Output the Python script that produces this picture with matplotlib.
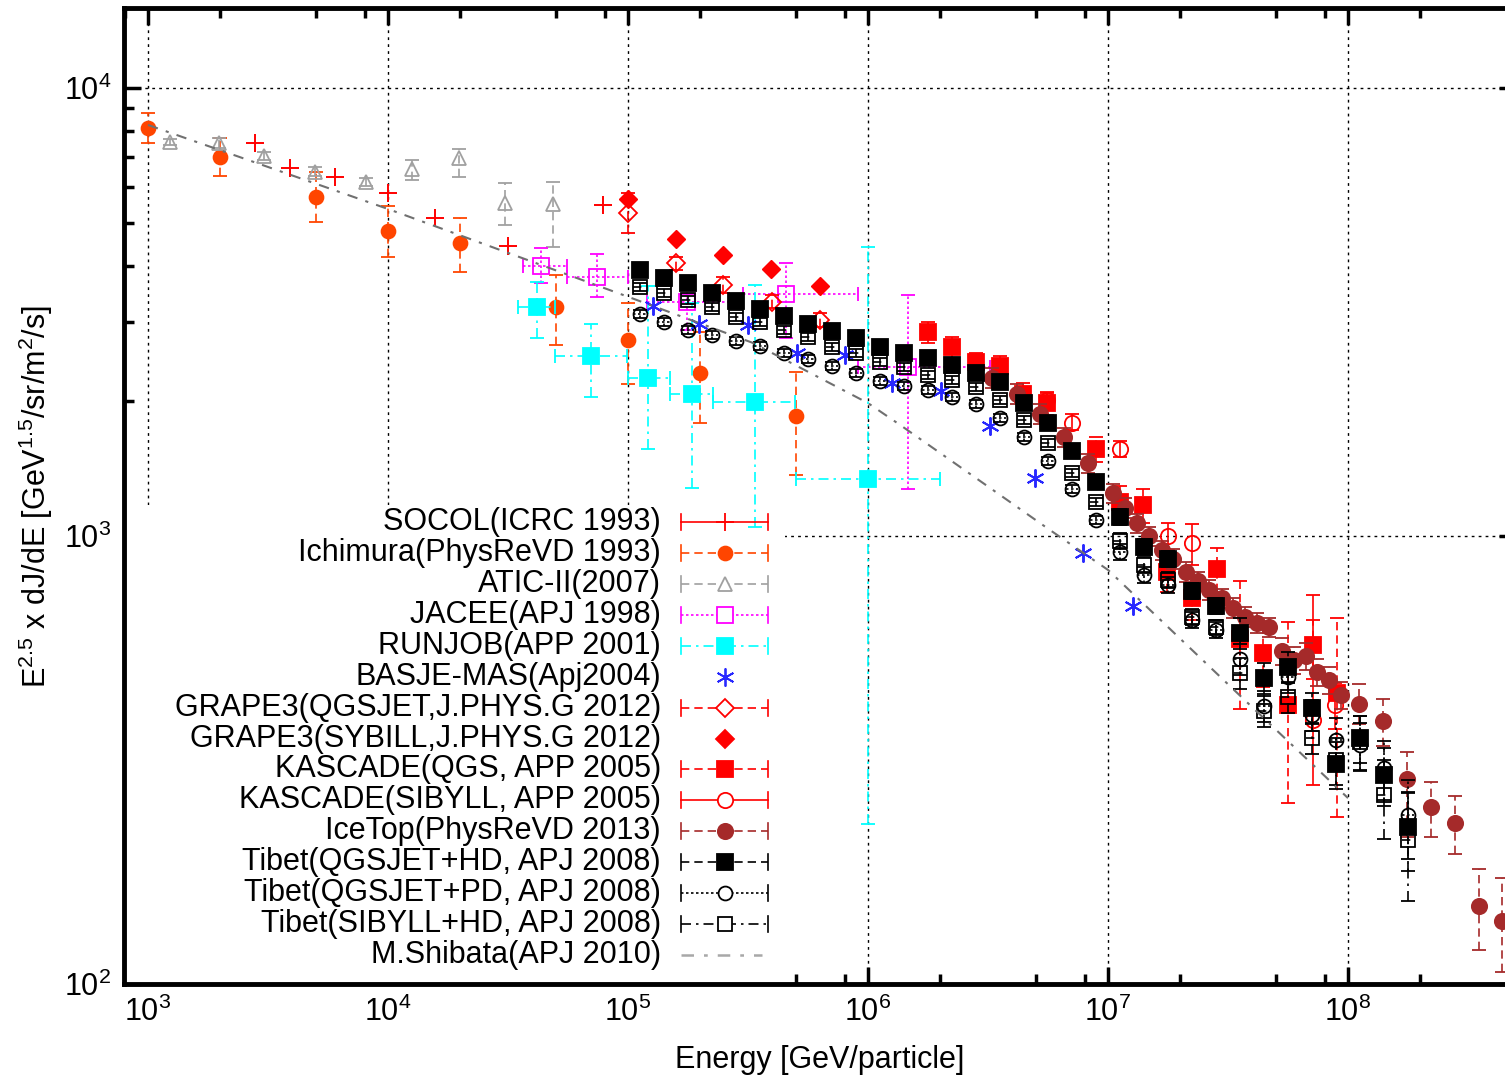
import numpy as np
import matplotlib
matplotlib.use('Agg')
import matplotlib.pyplot as plt
from matplotlib.ticker import LogLocator, LogFormatterMathtext, NullFormatter
from matplotlib.patches import Rectangle

plt.rcParams['font.family'] = ['Liberation Sans', 'DejaVu Sans']
plt.rcParams['mathtext.fontset'] = 'custom'
plt.rcParams['mathtext.rm'] = 'Liberation Sans'
plt.rcParams['mathtext.it'] = 'Liberation Sans:italic'
plt.rcParams['mathtext.bf'] = 'Liberation Sans:bold'

# ---------------- data ----------------
socol_E = [2800, 3900, 6000, 10000, 15700, 31600, 78700]
socol_F = [7540, 6630, 6330, 5830, 5130, 4440, 5480]

ichi_E = [1000, 2000, 5000, 10000, 20000, 50000, 100000, 200000, 500000]
ichi_F = [8140, 7010, 5710, 4800, 4510, 3240, 2740, 2310, 1850]
ichi_hi = [8790, 7730, 6500, 5450, 5130, 3830, 3310, 2850, 2320]
ichi_lo = [7540, 6360, 5020, 4200, 3880, 2670, 2180, 1790, 1370]

atic_E = [1235, 1977, 3040, 4960, 8090, 12600, 19800, 30700, 48700]
atic_F = [7580, 7540, 7050, 6495, 6170, 6590, 6980, 5530, 5510]
atic_hi = [7700, 7750, 7200, 6650, 6300, 6900, 7310, 6140, 6170]
atic_lo = [7450, 7330, 6900, 6350, 6050, 6240, 6330, 4940, 4420]

jacee_E = [43400, 74300, 176000, 455000, 1470000]
jacee_F = [4010, 3790, 3330, 3470, 2380]
jacee_Elo = [36500, 55700, 120000, 301000, 908000]
jacee_Ehi = [55700, 100000, 301000, 908000, 3220000]
jacee_hi = [4400, 4260, 3540, 4060, 3450]
jacee_lo = [3670, 3410, 2880, 2770, 1270]

runjob_E = [41800, 70200, 121000, 185000, 338000, 1000000]
runjob_F = [3240, 2520, 2250, 2080, 1990, 1340]
runjob_Elo = [34800, 49700, 100000, 150000, 226000, 501000]
runjob_Ehi = [49700, 99100, 150000, 226000, 497000, 2000000]
runjob_hi = [3690, 2970, 3610, 3310, 3630, 4420]
runjob_lo = [2770, 2040, 1560, 1280, 1047, 228]

basje_E = [1.27e5, 1.98e5, 3.16e5, 5.06e5, 8.02e5, 1.26e6, 2.01e6, 3.22e6, 4.97e6, 7.87e6, 1.27e7]
basje_F = [3260, 2970, 2960, 2560, 2530, 2200, 2110, 1760, 1350, 916, 698]

grapeq_E = [1e5, 1.58e5, 2.49e5, 3.98e5, 6.31e5]
grapeq_F = [5260, 4060, 3630, 3330, 3030]
grapeq_hi = [5840, 4200, 3780, 3450, 3140]
grapeq_lo = [4750, 3930, 3480, 3220, 2930]

grapes_E = [1e5, 1.58e5, 2.49e5, 3.95e5, 6.31e5]
grapes_F = [5650, 4600, 4240, 3940, 3610]

kq_E = [1.78e6, 2.24e6, 2.82e6, 3.55e6, 4.42e6, 5.57e6, 8.91e6, 1.12e7, 1.40e7, 1.76e7,
        2.24e7, 2.85e7, 3.55e7, 4.42e7, 5.62e7, 7.15e7, 9.0e7]
kq_F = [2850, 2640, 2440, 2400, 2080, 1980, 1560, 1190, 1170, 832, 728, 844, 590, 548, 420, 571, 447]
kq_hi = [3000, 2780, 2560, 2520, 2200, 2100, 1660, 1290, 1270, 910, 810, 940, 793, 640, 643, 650, 656]
kq_lo = [2700, 2500, 2320, 2280, 1960, 1860, 1460, 1090, 1070, 750, 650, 750, 411, 460, 253, 480, 236]

ks_E = [5.57e6, 7.08e6, 1.12e7, 1.78e7, 2.24e7, 7.15e7, 8.83e7]
ks_F = [2010, 1790, 1560, 1000, 965, 388, 420]
ks_hi = [2090, 1870, 1630, 1069, 1064, 738, 470]
ks_lo = [1930, 1720, 1500, 930, 861, 278, 370]

ice_E = [3.29e6, 4.18e6, 5.21e6, 6.56e6, 8.26e6, 1.05e7, 1.18e7, 1.32e7, 1.48e7, 1.68e7,
         1.87e7, 2.11e7, 2.37e7, 2.64e7, 2.99e7, 3.32e7, 3.72e7, 4.18e7, 4.69e7, 5.31e7,
         5.96e7, 6.68e7, 7.43e7, 8.34e7, 9.35e7, 1.11e8, 1.40e8, 1.76e8, 2.22e8, 2.79e8,
         3.52e8, 4.38e8]
ice_F = [2253, 2075, 1873, 1663, 1455, 1247, 1155, 1069, 1000, 930, 889, 832, 793, 758, 727,
         691, 660, 640, 626, 554, 529, 540, 497, 477, 442, 422, 386, 287, 248, 229, 149, 138]
ice_up_pct = [5, 5, 5, 5, 5, 5, 5, 5, 5, 5, 5, 5, 5, 5, 5, 5, 5, 5, 5,
              7, 7, 7, 7, 7, 7, 11, 12, 15, 14, 15, 21, 25]
ice_dn_pct = [5, 5, 5, 5, 5, 5, 5, 5, 5, 5, 5, 5, 5, 5, 5, 5, 5, 5, 5,
              7, 7, 7, 7, 7, 7, 10, 12, 26, 14, 15, 20, 23]

tibet_E = [1.12e5, 1.41e5, 1.78e5, 2.24e5, 2.82e5, 3.55e5, 4.47e5, 5.62e5, 7.08e5, 8.91e5,
           1.12e6, 1.41e6, 1.78e6, 2.24e6, 2.82e6, 3.55e6, 4.47e6, 5.62e6, 7.08e6, 8.91e6,
           1.12e7, 1.41e7, 1.78e7, 2.24e7, 2.82e7, 3.55e7, 4.47e7, 5.62e7, 7.08e7, 8.91e7,
           1.12e8, 1.41e8, 1.78e8]
tibet_hd_F = [3925, 3766, 3670, 3486, 3346, 3211, 3098, 2973, 2868, 2767, 2642, 2562, 2497, 2409,
              2311, 2207, 1982, 1787, 1548, 1320, 1103, 945, 889, 754, 698, 607, 482, 510, 413,
              310, 354, 293, 224]
tibet_pd_F = [3130, 3004, 2883, 2810, 2725, 2655, 2562, 2484, 2396, 2311, 2218, 2162, 2118, 2043,
              1971, 1834, 1663, 1471, 1273, 1086, 921, 818, 777, 649, 617, 531, 417, 485, 399,
              350, 342, 303, 238]
tibet_sh_F = [3595, 3486, 3363, 3245, 3082, 3004, 2883, 2781, 2642, 2562, 2446, 2384, 2288, 2230,
              2151, 2012, 1815, 1613, 1382, 1191, 975, 861, 798, 660, 626, 495, 407, 437, 354,
              316, 347, 264, 210]
tibet_hd_pct = [2, 2, 2, 2, 2, 2, 2, 2, 2, 2, 2, 2, 2, 2, 2, 2, 2, 2, 2, 2,
                4, 4, 4, 4, 4, 8, 8, 8, 8, 12, 12, 15, 20]
tibet_pd_pct = [2, 2, 2, 2, 2, 2, 2, 2, 2, 2, 2, 2, 2, 2, 2, 2, 2, 2, 2, 2,
                4, 4, 4, 4, 4, 8, 8, 8, 8, 12, 12, 15, 20]
tibet_sh_pct = [2, 2, 2, 2, 2, 2, 2, 2, 2, 2, 2, 2, 2, 2, 2, 2, 2, 2, 2, 2,
                4, 4, 4, 4, 4, 8, 8, 8, 8, 12, 14, 20, 27]
tibet_xerr_pct = [6, 6, 6, 6, 6, 6, 6, 6, 6, 6, 6, 6, 6, 6, 6, 6, 6, 6, 6, 6,
                  6, 6, 6, 6, 6, 6, 6, 6, 6, 6, 6, 6, 6]

shibata_E = [1e3, 1e4, 1e5, 3.3e5, 1e6, 1.36e6, 3.16e6, 5.6e6, 1e7, 3.16e7, 1e8]
shibata_F = [8270, 5370, 3420, 2700, 1980, 1770, 1290, 1040, 840, 467, 260]

labels = ['SOCOL(ICRC 1993)', 'Ichimura(PhysReVD 1993)', 'ATIC-II(2007)', 'JACEE(APJ 1998)',
          'RUNJOB(APP 2001)', 'BASJE-MAS(Apj2004)', 'GRAPE3(QGSJET,J.PHYS.G 2012)',
          'GRAPE3(SYBILL,J.PHYS.G 2012)', 'KASCADE(QGS, APP 2005)', 'KASCADE(SIBYLL, APP 2005)',
          'IceTop(PhysReVD 2013)', 'Tibet(QGSJET+HD, APJ 2008)', 'Tibet(QGSJET+PD, APJ 2008)',
          'Tibet(SIBYLL+HD, APJ 2008)', 'M.Shibata(APJ 2010)']

RED = '#FF0000'
ORG = '#FF4500'
GRY = '#A0A0A0'
MAG = '#FF00FF'
CYA = '#00FFFF'
BLU = '#2828FF'
BRN = '#A52A2A'
BLK = '#000000'
SHB = '#707070'
SHB_KEY = '#A8A8A8'

DASH = (0, (5, 3))
DOT = (0, (1.5, 1.5))
DASHDOT = (0, (6, 3, 1.5, 3))
ASTER = (6, 2, 0)
SHB_LS = (0, (5, 4, 1.5, 4))

FS = 22

# ---------------- figure ----------------
W, H = 1505, 1079
fig = plt.figure(figsize=(W / 100, H / 100), dpi=100)
L, R, T, B = 124, 1516, 8, 984
ax = fig.add_axes([L / W, 1 - B / H, (R - L) / W, (B - T) / H])
ax.set_xscale('log')
ax.set_yscale('log')
ax.set_xlim(10 ** 2.9, 10 ** 8.7)
ax.set_ylim(100, 10 ** (4 + 80 / 448))
ax.set_axisbelow(True)

ax.xaxis.set_major_locator(LogLocator(base=10, numticks=20))
ax.xaxis.set_minor_locator(LogLocator(base=10, subs=(2, 5, 8), numticks=20))
ax.yaxis.set_major_locator(LogLocator(base=10, numticks=20))
ax.yaxis.set_minor_locator(LogLocator(base=10, subs=np.arange(2, 10), numticks=20))
ax.xaxis.set_major_formatter(LogFormatterMathtext())
ax.yaxis.set_major_formatter(LogFormatterMathtext())
ax.xaxis.set_minor_formatter(NullFormatter())
ax.yaxis.set_minor_formatter(NullFormatter())
ax.tick_params(which='both', direction='in', top=True, right=True, width=2.5, labelsize=FS)
ax.tick_params(which='major', length=12)
ax.tick_params(which='minor', length=7)
ax.tick_params(axis='x', pad=9)
ax.tick_params(axis='y', pad=9)
for s in ax.spines.values():
    s.set_linewidth(3.5)
ax.grid(True, which='major', color='black', linestyle=(0, (2, 3)), linewidth=1.0)

# white key area (hides the grid behind the key)
ax.add_patch(Rectangle((0, 0), (785 - L) / (R - L), (B - 505) / (B - T),
                       transform=ax.transAxes, facecolor='white', edgecolor='none', zorder=1))


def eb(E, F, color, marker, ms, filled, ls, z, lo=None, hi=None, Elo=None, Ehi=None,
       capsize=5, mew=1.3):
    E = np.asarray(E, float)
    F = np.asarray(F, float)
    yerr = None
    xerr = None
    if lo is not None:
        yerr = [F - np.asarray(lo, float), np.asarray(hi, float) - F]
    if Elo is not None:
        xerr = [E - np.asarray(Elo, float), np.asarray(Ehi, float) - E]
    c = ax.errorbar(E, F, yerr=yerr, xerr=xerr, fmt='', marker=marker, linestyle='none',
                    ms=ms, mfc=(color if filled else 'none'), mec=color, mew=mew,
                    ecolor=color, elinewidth=1.2, capsize=capsize, capthick=1.2, zorder=z)
    for lc in c[2]:
        lc.set_linestyle(ls)
    return c


def pct_bounds(F, up, dn):
    F = np.asarray(F, float)
    return F * (1 - np.asarray(dn) / 100.0), F * (1 + np.asarray(up) / 100.0)


def xlines(E, F, pct, ls, z):
    E = np.asarray(E, float)
    d = E * np.asarray(pct) / 100.0
    c = ax.errorbar(E, F, xerr=[d, d], fmt='none', ecolor=BLK, elinewidth=1.2, capsize=0, zorder=z)
    for lc in c[2]:
        lc.set_linestyle(ls)


ax.plot(socol_E, socol_F, linestyle='none', marker='+', ms=13, mew=1.4, color=RED, zorder=3)
eb(ichi_E, ichi_F, ORG, 'o', 10, True, DASH, 4, ichi_lo, ichi_hi)
eb(atic_E, atic_F, GRY, '^', 10, False, DASH, 5, atic_lo, atic_hi)
eb(jacee_E, jacee_F, MAG, 's', 11, False, DOT, 6, jacee_lo, jacee_hi, jacee_Elo, jacee_Ehi)
eb(runjob_E, runjob_F, CYA, 's', 11, True, DASHDOT, 7, runjob_lo, runjob_hi, runjob_Elo, runjob_Ehi)
ax.plot(basje_E, basje_F, linestyle='none', marker=ASTER, ms=13, mew=1.4, color=BLU, zorder=8)
eb(grapeq_E, grapeq_F, RED, 'D', 9, False, DASH, 9, grapeq_lo, grapeq_hi)
ax.plot(grapes_E, grapes_F, linestyle='none', marker='D', ms=9, color=RED, zorder=10)
eb(kq_E, kq_F, RED, 's', 11, True, DASH, 11, kq_lo, kq_hi)
eb(ks_E, ks_F, RED, 'o', 11, False, '-', 12, ks_lo, ks_hi)
ilo, ihi = pct_bounds(ice_F, ice_up_pct, ice_dn_pct)
eb(ice_E, ice_F, BRN, 'o', 11, True, DASH, 13, ilo, ihi)
hlo, hhi = pct_bounds(tibet_hd_F, tibet_hd_pct, tibet_hd_pct)
eb(tibet_E, tibet_hd_F, BLK, 's', 11, True, DASH, 14, hlo, hhi)
plo, phi = pct_bounds(tibet_pd_F, tibet_pd_pct, tibet_pd_pct)
eb(tibet_E, tibet_pd_F, BLK, 'o', 10, False, DOT, 15, plo, phi)
xlines(tibet_E, tibet_pd_F, tibet_xerr_pct, DOT, 15)
slo, shi = pct_bounds(tibet_sh_F, tibet_sh_pct, tibet_sh_pct)
eb(tibet_E, tibet_sh_F, BLK, 's', 10, False, DASHDOT, 16, slo, shi)
xlines(tibet_E, tibet_sh_F, tibet_xerr_pct, DASH, 16)
ax.plot(shibata_E, shibata_F, color=SHB, linestyle=SHB_LS, linewidth=1.5, zorder=17)

# ---------------- key ----------------
key_style = [
    (RED, '+', 13, True, '-', True),
    (ORG, 'o', 10, True, DASH, True),
    (GRY, '^', 10, False, DASH, True),
    (MAG, 's', 11, False, DOT, True),
    (CYA, 's', 11, True, DASHDOT, True),
    (BLU, ASTER, 13, True, None, False),
    (RED, 'D', 9, False, DASH, True),
    (RED, 'D', 9, True, None, False),
    (RED, 's', 11, True, DASH, True),
    (RED, 'o', 11, False, '-', True),
    (BRN, 'o', 11, True, DASH, True),
    (BLK, 's', 11, True, DASH, True),
    (BLK, 'o', 10, False, DOT, True),
    (BLK, 's', 10, False, DASHDOT, True),
    (SHB_KEY, None, 0, False, SHB_LS, False),
]


def fx(px):
    return (px - L) / (R - L)


def fy(py):
    return (B - py) / (B - T)


for i, (lab, st) in enumerate(zip(labels, key_style)):
    col, mk, ms, filled, ls, caps = st
    ypx = 522 + 30.93 * i
    y = fy(ypx)
    ax.text(fx(661), y, lab, transform=ax.transAxes, ha='right', va='center',
            fontsize=FS, zorder=30)
    kw = dict(transform=ax.transAxes, clip_on=False, zorder=30)
    if ls is not None:
        x1 = 768 if caps else 762
        ax.plot([fx(681), fx(x1)], [y, y], color=col, linestyle=ls,
                linewidth=(1.8 if mk is None else 1.2), **kw)
    if caps:
        for xc in (681, 768):
            ax.plot([fx(xc), fx(xc)], [fy(ypx - 8), fy(ypx + 8)], color=col, linewidth=1.2, **kw)
    if mk is not None:
        ax.plot([fx(724.5)], [y], linestyle='none', marker=mk, ms=ms,
                mfc=(col if filled else 'white'), mec=col, mew=1.3, **kw)

fig.text(820 / W, 1 - 1060 / H, 'Energy [GeV/particle]', ha='center', va='center', fontsize=FS)
fig.text(36 / W, 1 - 496 / H, r'E$^{2.5}$ x dJ/dE [GeV$^{1.5}$/sr/m$^{2}$/s]',
         rotation=90, ha='center', va='center', fontsize=FS)

fig.savefig('out.png', dpi=100)
